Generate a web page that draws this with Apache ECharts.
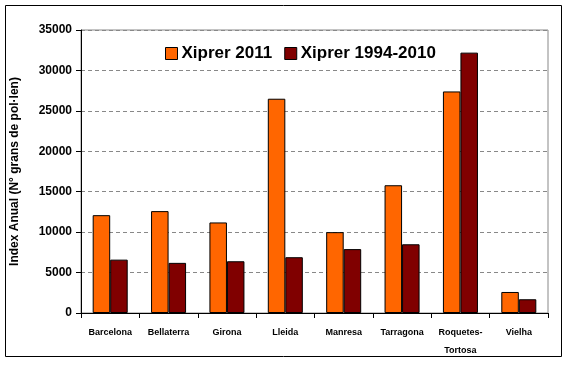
<!DOCTYPE html>
<html><head><meta charset="utf-8">
<script src="https://cdn.jsdelivr.net/npm/echarts@6/dist/echarts.min.js"></script>
<style>html,body{margin:0;padding:0;background:#fff}#c{width:567px;height:365px}</style>
</head><body><div id="c"></div>
<script>
const categories = ["Barcelona","Bellaterra","Girona","Lleida","Manresa","Tarragona","Roquetes-\nTortosa","Vielha"];
const xiprer2011 = [12100,12600,11200,26500,10000,15800,27400,2600];
const xiprer19942010 = [6600,6200,6400,6900,7900,8500,32200,1700];
const yTicks = [0,5000,10000,15000,20000,25000,30000,35000];
const seriesNames = ["Xiprer 2011","Xiprer 1994-2010"];
const yName = "Index Anual (N° grans de pol·len)";

const chart = echarts.init(document.getElementById('c'), null, {renderer:'canvas'});
const font = '"Liberation Sans", Arial, sans-serif';
chart.setOption({
  animation:false,
  backgroundColor:'#fff',
  graphic:[{type:'rect',shape:{x:5.5,y:5.5,width:556,height:351},style:{fill:'none',stroke:'#000',lineWidth:1},z:-1}],
  legend:{
    top:40, left:160, itemWidth:12, itemHeight:12, itemGap:12, icon:'rect',
    data:seriesNames,
    textStyle:{fontFamily:font,fontWeight:'bold',fontSize:17,color:'#000',padding:[0,0,0,-1]},
    itemStyle:{borderColor:'#000',borderWidth:1}
  },
  grid:{left:81,right:19,top:30,bottom:52,show:true,borderColor:'#888',borderWidth:1},
  xAxis:{
    type:'category', data:categories,
    axisLine:{lineStyle:{color:'#000'}},
    axisTick:{show:true,length:5,lineStyle:{color:'#000'}},
    axisLabel:{interval:0,fontFamily:font,fontWeight:'bold',fontSize:9,color:'#000',margin:11,lineHeight:18}
  },
  yAxis:{
    type:'value', min:0, max:35000, interval:5000,
    name:yName, nameLocation:'middle', nameGap:60,
    nameTextStyle:{fontFamily:font,fontWeight:'bold',fontSize:12,color:'#000'},
    axisLine:{show:true,lineStyle:{color:'#000'}},
    axisTick:{show:true,length:5,lineStyle:{color:'#000'}},
    axisLabel:{fontFamily:font,fontWeight:'bold',fontSize:12,color:'#000',margin:9,
      formatter:v=>yTicks.includes(v)?String(v):''},
    splitLine:{show:true,lineStyle:{color:'#888',type:[4,3],width:1}}
  },
  series:[
    {name:seriesNames[0],type:'bar',data:xiprer2011,barGap:'0%',barCategoryGap:'40%',
     itemStyle:{color:'#FF6600',borderColor:'#000',borderWidth:1}},
    {name:seriesNames[1],type:'bar',data:xiprer19942010,
     itemStyle:{color:'#800000',borderColor:'#000',borderWidth:1}}
  ]
});
</script></body></html>
